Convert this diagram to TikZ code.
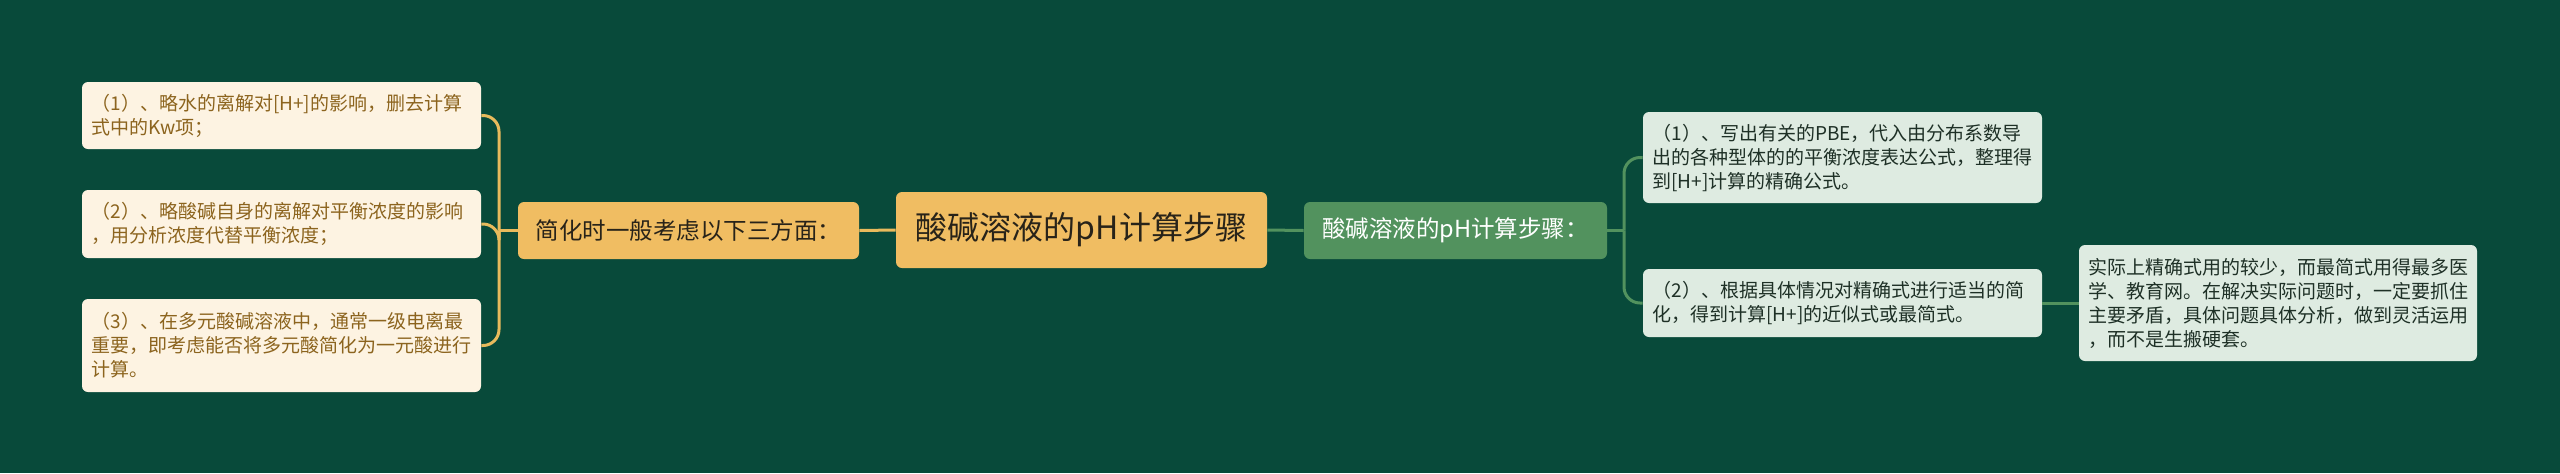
\documentclass[tikz,border=0pt]{standalone}
\usepackage{fontspec}
\setmainfont{Noto Sans CJK SC}
\usetikzlibrary{positioning}

\definecolor{bggreen}{RGB}{8,74,58}
\definecolor{rootorange}{RGB}{240,189,98}
\definecolor{leafcream}{RGB}{253,243,226}
\definecolor{leafbrown}{RGB}{140,100,30}
\definecolor{lineorange}{RGB}{232,186,92}
\definecolor{branchgreen}{RGB}{82,146,94}
\definecolor{leafgreen}{RGB}{222,235,225}
\definecolor{leafdark}{RGB}{30,48,38}
\definecolor{rootdark}{RGB}{40,35,25}

\tikzset{
  rootbox/.style={fill=rootorange, rounded corners=3pt, text=rootdark,
    minimum width=185.5pt, minimum height=38pt, inner sep=0pt,
    font=\fontsize{16pt}{19pt}\selectfont},
  leftbranch/.style={fill=rootorange, rounded corners=3pt, text=rootdark,
    minimum width=170.5pt, minimum height=28.5pt, inner sep=0pt,
    font=\fontsize{11.75pt}{14pt}\selectfont},
  rightbranch/.style={fill=branchgreen, rounded corners=3pt, text=white,
    minimum width=151.5pt, minimum height=28.5pt, inner sep=0pt,
    font=\fontsize{11.75pt}{14pt}\selectfont},
  leftleaf/.style={fill=leafcream, rounded corners=3pt, text=leafbrown,
    text width=190pt, inner xsep=4.75pt, inner ysep=0pt, align=left,
    font=\fontsize{9.5pt}{12pt}\selectfont},
  rightleaf/.style={fill=leafgreen, rounded corners=3pt, text=leafdark,
    text width=190pt, inner xsep=4.75pt, inner ysep=0pt, align=left,
    font=\fontsize{9.5pt}{12pt}\selectfont},
  leftline/.style={draw=lineorange, line width=1.5pt},
  rightline/.style={draw=branchgreen, line width=1.5pt}
}

\begin{document}
\begin{tikzpicture}[x=0.5pt, y=-0.5pt]
%background
\fill[bggreen] (0,0) rectangle (2560,473);
\useasboundingbox (0,0) rectangle (2560,473);

%root
\node[rootbox] (root) at (1081.5,230) {酸碱溶液的pH计算步骤};

%left side
\node[leftbranch] (simplify) at (688.5,230.5) {简化时一般考虑以下三方面：};
\node[leftleaf, minimum height=33.5pt] (water) at (281.5,115.5)
  {（1）、略水的离解对[H+]的影响，删去计算\\式中的Kw项；};
\node[leftleaf, minimum height=34pt] (selfion) at (281.5,224)
  {（2）、略酸碱自身的离解对平衡浓度的影响\\，用分析浓度代替平衡浓度；};
\node[leftleaf, minimum height=46.5pt] (polyacid) at (281.5,345.5)
  {（3）、在多元酸碱溶液中，通常一级电离最\\重要，即考虑能否将多元酸简化为一元酸进行\\计算。};

%right side
\node[rightbranch] (steps) at (1455.5,230.5) {酸碱溶液的pH计算步骤：};
\node[rightleaf, minimum height=45.5pt] (exact) at (1842.5,157.5)
  {（1）、写出有关的PBE，代入由分布系数导\\出的各种型体的的平衡浓度表达公式，整理得\\到[H+]计算的精确公式。};
\node[rightleaf, minimum height=34pt] (approx) at (1842.5,303)
  {（2）、根据具体情况对精确式进行适当的简\\化，得到计算[H+]的近似式或最简式。};
\node[rightleaf, minimum height=58pt, text width=189.5pt] (practice) at (2278,303)
  {实际上精确式用的较少，而最简式用得最多医\\学、教育网。在解决实际问题时，一定要抓住\\主要矛盾，具体问题具体分析，做到灵活运用\\，而不是生搬硬套。};

%joints
\coordinate (ljoint) at (499,230.5);
\coordinate (rjoint) at (1624,230.5);

%connectors
\draw[leftline] (root.west) -- (simplify.east);
\draw[leftline] (simplify.west) -- (ljoint);
\foreach \leaf in {water,selfion,polyacid} {
\draw[leftline, rounded corners=8pt] (ljoint) |- (\leaf.east);
}
\draw[rightline] (root.east) -- (steps.west);
\draw[rightline] (steps.east) -- (rjoint);
\foreach \leaf in {exact,approx} {
\draw[rightline, rounded corners=8pt] (rjoint) |- (\leaf.west);
}
\draw[rightline] (approx.east) -- (practice.west);
\end{tikzpicture}
\end{document}
